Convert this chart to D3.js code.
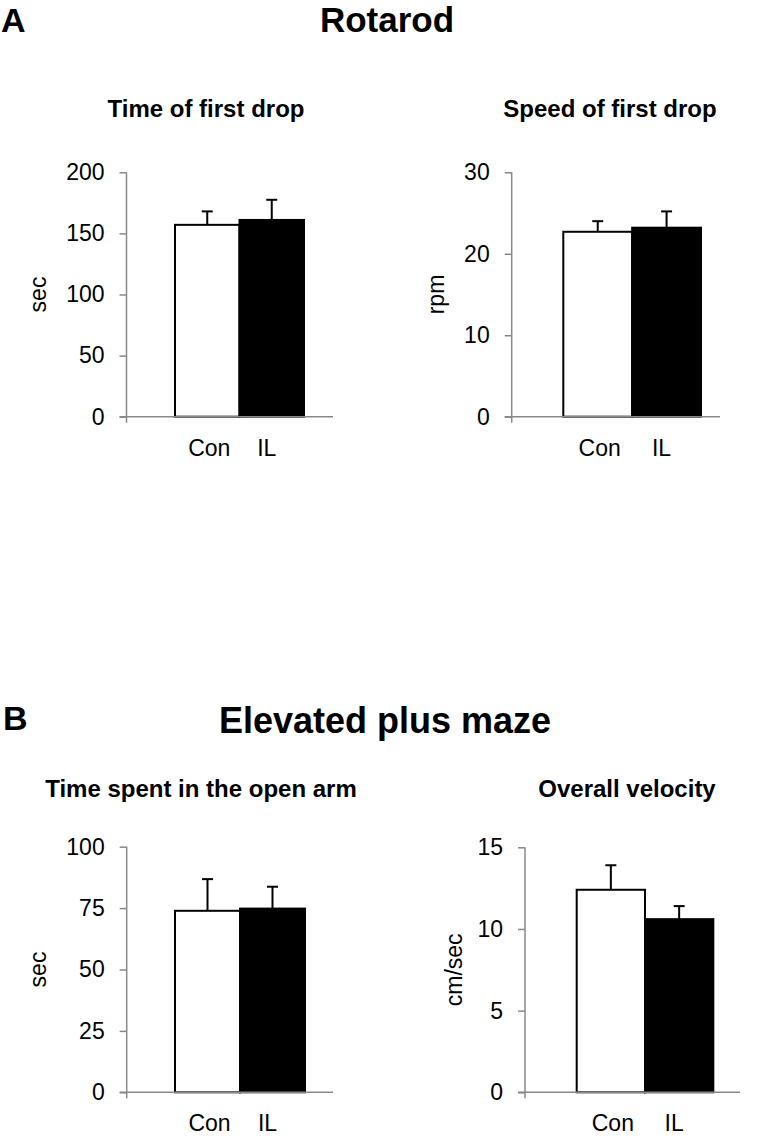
<!DOCTYPE html>
<html>
<head>
<meta charset="utf-8">
<script src="https://cdn.jsdelivr.net/npm/d3@7"></script>
<style>
  html, body { margin: 0; padding: 0; background: #fff; }
  svg { display: block; }
  text { font-family: "Liberation Sans", Arial, sans-serif; fill: #000; }
</style>
</head>
<body>
<svg id="chart" width="767" height="1137"></svg>
<script>
// ---- Data ----
const categories = ["Con", "IL"];

const rotarodTimeMean = [157, 161];
const rotarodTimeSem  = [11, 16.5];
const rotarodTimeTicks = [0, 50, 100, 150, 200];

const rotarodSpeedMean = [22.7, 23.2];
const rotarodSpeedSem  = [1.3, 2.0];
const rotarodSpeedTicks = [0, 10, 20, 30];

const openArmMean = [73.9, 74.8];
const openArmSem  = [12.9, 8.9];
const openArmTicks = [0, 25, 50, 75, 100];

const velocityMean = [12.4, 10.6];
const velocitySem  = [1.5, 0.8];
const velocityTicks = [0, 5, 10, 15];

const barFills = ["#ffffff", "#000000"];

// ---- Layout ----
const panels = [
  { title: "Time of first drop", ylabel: "sec", mean: rotarodTimeMean, sem: rotarodTimeSem, ticks: rotarodTimeTicks,
    axisX: 126.5, right: 333, yTop: 172.3, yBot: 416.7, barL: 175, barR: 304, titleX: 206, titleY: 117, ylabX: 46 },
  { title: "Speed of first drop", ylabel: "rpm", mean: rotarodSpeedMean, sem: rotarodSpeedSem, ticks: rotarodSpeedTicks,
    axisX: 511.7, right: 720, yTop: 172.3, yBot: 416.7, barL: 563.3, barR: 701, titleX: 610, titleY: 117, ylabX: 444 },
  { title: "Time spent in the open arm", ylabel: "sec", mean: openArmMean, sem: openArmSem, ticks: openArmTicks,
    axisX: 126.7, right: 333, yTop: 846.7, yBot: 1092.3, barL: 175, barR: 305, titleX: 201, titleY: 797, ylabX: 46 },
  { title: "Overall velocity", ylabel: "cm/sec", mean: velocityMean, sem: velocitySem, ticks: velocityTicks,
    axisX: 525, right: 740, yTop: 847.3, yBot: 1092.3, barL: 576.7, barR: 713.3, titleX: 627, titleY: 797, ylabX: 462 }
];

const svg = d3.select("#chart");

// Section headers
svg.append("text").attr("x", 1).attr("y", 32).attr("font-size", 34).attr("font-weight", "bold").text("A");
svg.append("text").attr("x", 387).attr("y", 32).attr("font-size", 35).attr("font-weight", "bold")
  .attr("text-anchor", "middle").text("Rotarod");
svg.append("text").attr("x", 3).attr("y", 730).attr("font-size", 34).attr("font-weight", "bold").text("B");
svg.append("text").attr("x", 385).attr("y", 733).attr("font-size", 36).attr("font-weight", "bold")
  .attr("text-anchor", "middle").text("Elevated plus maze");

const axisColor = "#888888";

panels.forEach(p => {
  const g = svg.append("g");
  const yMax = p.ticks[p.ticks.length - 1];
  const y = d3.scaleLinear().domain([0, yMax]).range([p.yBot, p.yTop]);
  const x = d3.scaleBand().domain(categories).range([p.barL, p.barR]).padding(0);

  // title
  g.append("text").attr("x", p.titleX).attr("y", p.titleY).attr("text-anchor", "middle")
    .attr("font-size", 24).attr("font-weight", "bold").text(p.title);

  // y axis
  const ax = g.append("g").attr("transform", `translate(${p.axisX},0)`)
    .call(d3.axisLeft(y).tickValues(p.ticks).tickSize(7).tickPadding(15).tickFormat(d3.format("d")));
  ax.select(".domain").remove();
  ax.selectAll(".tick line").attr("stroke", axisColor).attr("stroke-width", 1.5);
  ax.selectAll(".tick text").attr("font-size", 23).attr("fill", "#000")
    .attr("font-family", "Liberation Sans, Arial, sans-serif");
  g.append("line").attr("x1", p.axisX).attr("x2", p.axisX).attr("y1", y(yMax)).attr("y2", p.yBot + 6)
    .attr("stroke", axisColor).attr("stroke-width", 1.5);

  // bars
  g.selectAll("rect.bar").data(categories).join("rect")
    .attr("x", d => x(d)).attr("width", x.bandwidth())
    .attr("y", (d, i) => y(p.mean[i])).attr("height", (d, i) => y(0) - y(p.mean[i]))
    .attr("fill", (d, i) => barFills[i]).attr("stroke", "#000").attr("stroke-width", 2);

  // error bars (upper only)
  categories.forEach((c, i) => {
    const cx = x(c) + x.bandwidth() / 2;
    g.append("line").attr("x1", cx).attr("x2", cx)
      .attr("y1", y(p.mean[i])).attr("y2", y(p.mean[i] + p.sem[i]))
      .attr("stroke", "#000").attr("stroke-width", 2);
    g.append("line").attr("x1", cx - 5.5).attr("x2", cx + 5.5)
      .attr("y1", y(p.mean[i] + p.sem[i])).attr("y2", y(p.mean[i] + p.sem[i]))
      .attr("stroke", "#000").attr("stroke-width", 2);
  });

  // baseline
  g.append("line").attr("x1", p.axisX - 7).attr("x2", p.right).attr("y1", p.yBot).attr("y2", p.yBot)
    .attr("stroke", axisColor).attr("stroke-width", 1.5);

  // category labels
  g.selectAll("text.cat").data(categories).join("text")
    .attr("x", d => x(d) + x.bandwidth() / 2 + (d === "Con" ? 2 : -5))
    .attr("y", p.yBot + 39).attr("text-anchor", "middle").attr("font-size", 23).text(d => d);

  // y label
  const ymid = (p.yTop + p.yBot) / 2;
  g.append("text").attr("transform", `translate(${p.ylabX},${ymid}) rotate(-90)`)
    .attr("text-anchor", "middle").attr("font-size", 23).text(p.ylabel);
});
</script>
</body>
</html>
